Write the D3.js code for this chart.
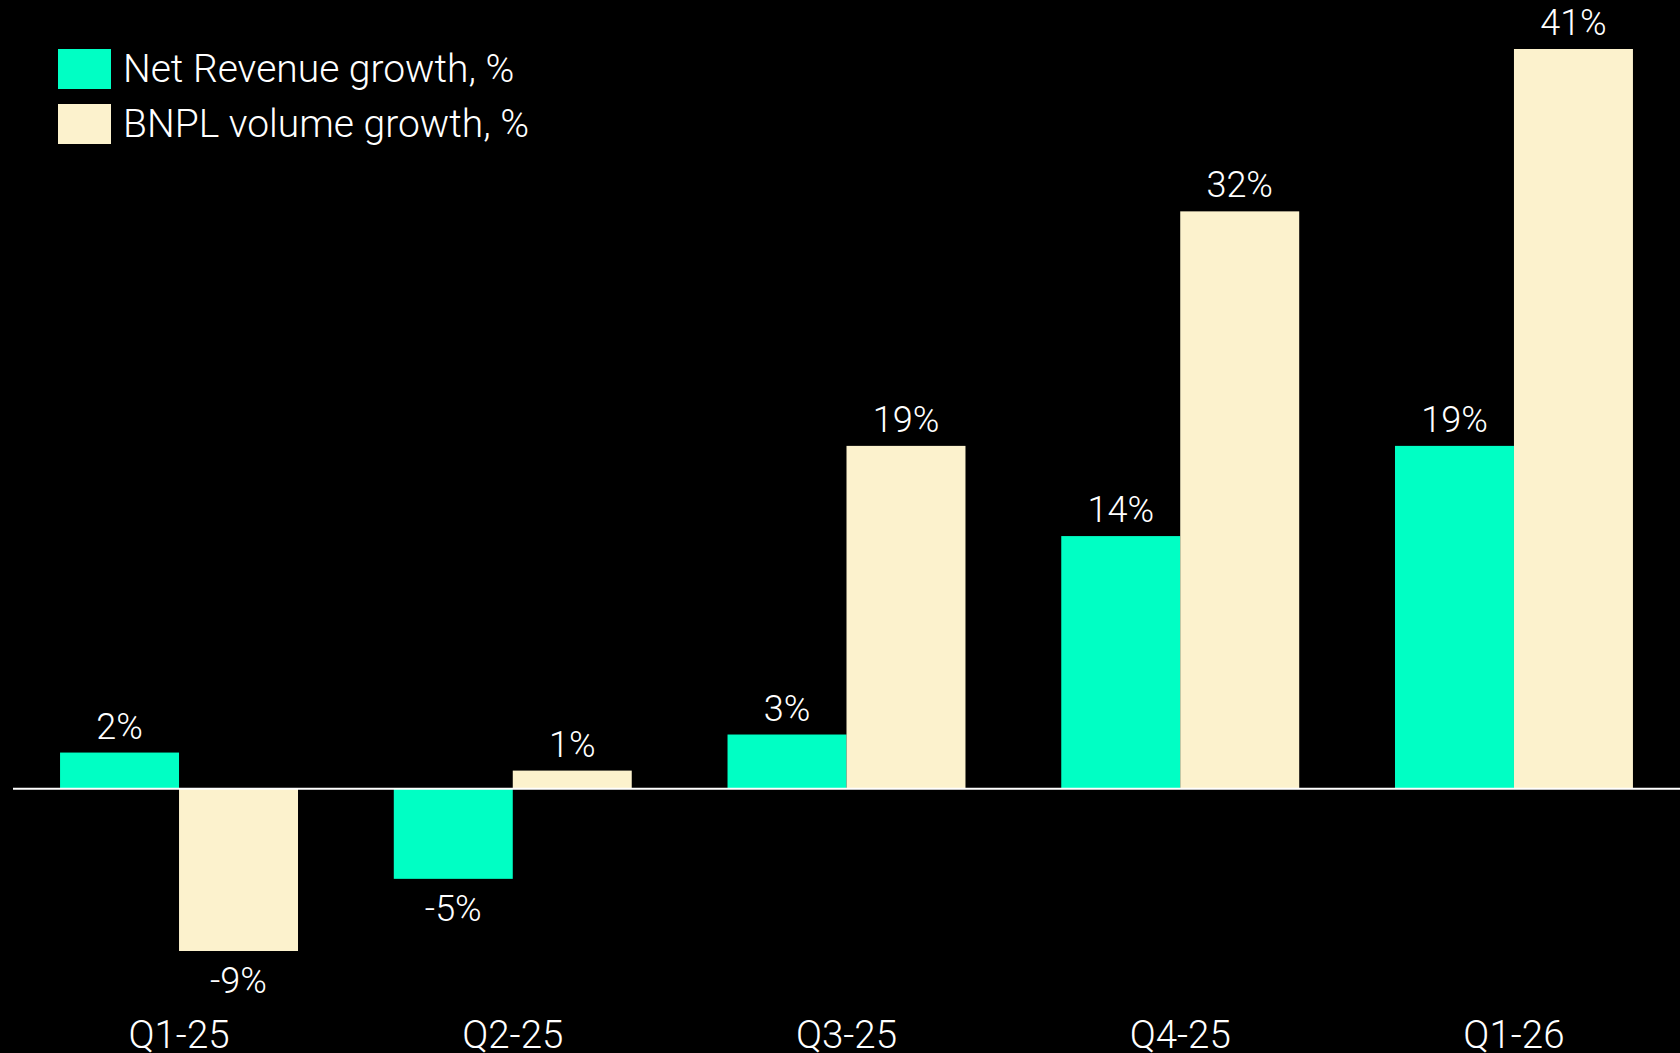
<!DOCTYPE html>
<html>
<head>
<meta charset="utf-8">
<script src="https://cdn.jsdelivr.net/npm/d3@7"></script>
<style>
  html, body { margin: 0; padding: 0; background: #000; }
  svg { display: block; }
  text { font-family: Roboto, "Noto Sans", sans-serif; font-weight: 300; fill: #fff; }
</style>
</head>
<body>
<svg id="chart" width="1680" height="1053"></svg>
<script>
// Quarterly growth figures
const quarters = ["Q1-25", "Q2-25", "Q3-25", "Q4-25", "Q1-26"];
const netRevenueGrowth = [2, -5, 3, 14, 19];
const bnplVolumeGrowth = [-9, 1, 19, 32, 41];
const seriesNames = ["Net Revenue growth, %", "BNPL volume growth, %"];
const seriesColors = ["#00FFC4", "#FCF2CD"];

const W = 1680, H = 1053;
const svg = d3.select("#chart");

const rows = quarters.map((q, i) => ({
  quarter: q,
  values: [netRevenueGrowth[i], bnplVolumeGrowth[i]]
}));

const x0 = d3.scaleBand()
  .domain(quarters)
  .range([13, 1680])
  .paddingInner(0.287)
  .paddingOuter(0.141);

const x1 = d3.scaleBand()
  .domain([0, 1])
  .range([0, x0.bandwidth()]);

const y = d3.scaleLinear()
  .domain([-9, 41])
  .range([951, 49]);

// Bars
const groups = svg.append("g").selectAll("g")
  .data(rows)
  .join("g")
  .attr("transform", d => `translate(${x0(d.quarter)},0)`);

groups.selectAll("rect")
  .data(d => d.values.map((v, k) => ({ v, k })))
  .join("rect")
  .attr("x", d => x1(d.k))
  .attr("width", x1.bandwidth())
  .attr("y", d => y(Math.max(0, d.v)))
  .attr("height", d => Math.abs(y(d.v) - y(0)))
  .attr("fill", d => seriesColors[d.k]);

// Value labels
groups.selectAll("text.value")
  .data(d => d.values.map((v, k) => ({ v, k })))
  .join("text")
  .attr("class", "value")
  .attr("x", d => x1(d.k) + x1.bandwidth() / 2)
  .attr("y", d => d.v >= 0 ? y(d.v) - 14 : y(d.v) + 42)
  .attr("text-anchor", "middle")
  .attr("font-size", 36)
  .text(d => `${d.v}%`);

// Zero baseline
svg.append("line")
  .attr("x1", 13).attr("x2", W)
  .attr("y1", y(0)).attr("y2", y(0))
  .attr("stroke", "#fff")
  .attr("stroke-width", 2);

// Category axis labels
const xAxis = d3.axisBottom(x0).tickSize(0).tickPadding(0);
const axisG = svg.append("g")
  .attr("transform", `translate(0,${1048})`)
  .call(xAxis);
axisG.select(".domain").remove();
axisG.selectAll("text")
  .attr("y", 0)
  .attr("dy", 0)
  .attr("font-size", 38.5)
  .attr("fill", "#fff")
  .style("font-family", "Roboto, 'Noto Sans', sans-serif")
  .style("font-weight", 300);

// Legend
const legend = svg.append("g").selectAll("g")
  .data(seriesNames)
  .join("g")
  .attr("transform", (d, i) => `translate(58,${49 + i * 55})`);

legend.append("rect")
  .attr("width", 53)
  .attr("height", 40)
  .attr("fill", (d, i) => seriesColors[i]);

legend.append("text")
  .attr("x", 65)
  .attr("y", 33)
  .attr("font-size", 39)
  .text(d => d);
</script>
</body>
</html>
